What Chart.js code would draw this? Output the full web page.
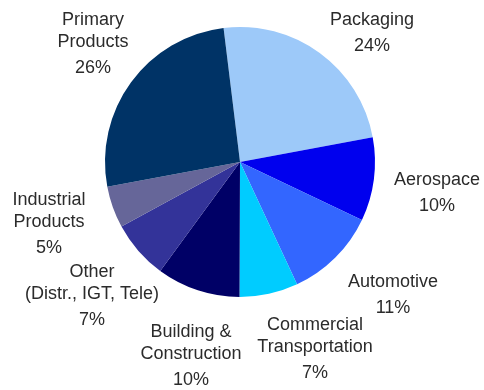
<!DOCTYPE html>
<html lang="en">
<head>
    <meta charset="UTF-8">
    <title>Shipments by End Market</title>
    <script src="https://cdn.jsdelivr.net/npm/chart.js"></script>
    <style>
        body { margin: 0; background: #fff; }
    </style>
</head>
<body>
    <canvas id="marketChart" width="484" height="390"></canvas>
    <script>
        // End markets, clockwise from the top
        const markets = [
            ['Packaging'],
            ['Aerospace'],
            ['Automotive'],
            ['Commercial', 'Transportation'],
            ['Building &', 'Construction'],
            ['Other', '(Distr., IGT, Tele)'],
            ['Industrial', 'Products'],
            ['Primary', 'Products']
        ];
        const shares = [24, 10, 11, 7, 10, 7, 5, 26];
        const sliceColors = ['#9dc9f9', '#0000ee', '#3366ff', '#00ccff', '#000066', '#333399', '#666699', '#003366'];

        // where each label block sits, relative to the pie centre
        const labelOffsets = [
            [132, -142], [197, 18], [153, 120], [75, 163],
            [-49, 170], [-148, 110], [-191, 38], [-147, -142]
        ];

        const labelPlugin = {
            id: 'sliceLabels',
            afterDraw(chart) {
                const ctx = chart.ctx;
                const arc = chart.getDatasetMeta(0).data[0];
                const cx = arc.x, cy = arc.y;
                ctx.save();
                ctx.font = '18px "Liberation Sans", Arial, sans-serif';
                ctx.fillStyle = '#2b2b2b';
                ctx.textAlign = 'center';
                ctx.textBaseline = 'middle';
                markets.forEach((lines, i) => {
                    const x = cx + labelOffsets[i][0];
                    let y = cy + labelOffsets[i][1];
                    lines.forEach((line, j) => {
                        ctx.fillText(line, x, y);
                        y += 22;
                    });
                    ctx.fillText(shares[i] + '%', x, y + 4);
                });
                ctx.restore();
            }
        };

        const ctx = document.getElementById('marketChart').getContext('2d');
        new Chart(ctx, {
            type: 'pie',
            data: {
                labels: markets.map(m => m.join(' ')),
                datasets: [{
                    data: shares,
                    backgroundColor: sliceColors,
                    borderWidth: 0
                }]
            },
            options: {
                responsive: false,
                animation: false,
                rotation: -7,
                layout: { padding: { top: 27, bottom: 93, left: 105, right: 109 } },
                plugins: {
                    legend: { display: false },
                    tooltip: { enabled: false }
                }
            },
            plugins: [labelPlugin]
        });
    </script>
</body>
</html>
